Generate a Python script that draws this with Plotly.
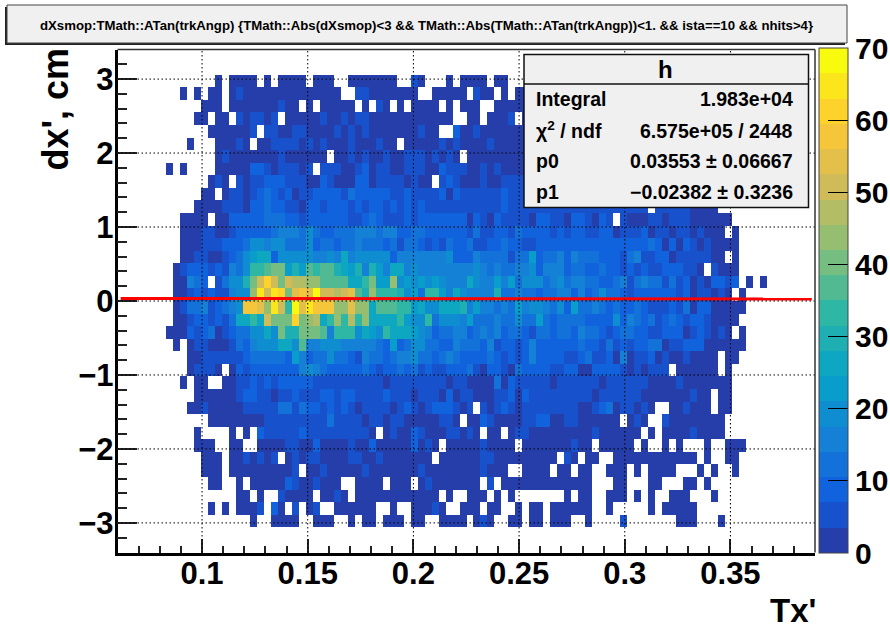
import plotly.graph_objects as go

# ---------- binning and fit results shown on the chart ----------
x_min, x_max, n_x = 0.06, 0.39, 100
y_min, y_max, n_y = -3.4, 3.4, 40
first_col = 7          # rows below start at this x bin
x_ticks = [0.1, 0.15, 0.2, 0.25, 0.3, 0.35]
x_tick_labels = ["0.1", "0.15", "0.2", "0.25", "0.3", "0.35"]
y_ticks = [-3, -2, -1, 0, 1, 2, 3]
z_ticks = [0, 10, 20, 30, 40, 50, 60, 70]
p0, p1 = 0.03553, -0.02382
fit_x = [0.0615, 0.3885]

# counts, one list per y bin, top to bottom (0 = empty)
r02 = [0,0,0, 0,0,0,0,2,0,2,2,2,2, 0,2,0,2,2,2,2,0,2,2, 2,0,0,2,2,2,2,2,2,2, 0,0,5,2,0,0,0,2,0,2, 2,2,2,0,2,2,0,0,0,0]
r03 = [0,0,2, 0,2,0,2,2,0,2,5,2,2, 2,2,2,2,2,2,2,2,2,2, 2,2,0,0,5,5,2,2,2,2, 2,2,2,0,0,2,2,2,2,2, 0,5,2,2,0,2,0,2,2,0]
r04 = [0,0,0, 0,0,2,2,2,0,2,2,2,2, 2,2,2,5,2,2,0,2,0,2, 2,2,2,2,0,2,0,5,2,0, 2,0,2,2,2,2,0,2,0,2, 2,2,0,0,2,2,2,2,2,0]
r05 = [0,0,0, 0,2,2,0,2,2,0,5,2,5, 5,2,5,0,2,2,2,2,2,5, 2,2,5,2,5,5,2,2,2,2, 2,2,2,2,2,2,2,2,0,0, 2,2,0,2,2,2,5,0,2,0]
r06 = [0,0,0, 0,0,0,2,2,2,2,2,2,5, 0,5,5,2,2,5,5,2,2,2, 2,5,2,5,2,5,2,2,2,2, 2,2,2,5,2,2,0,0,9,2, 2,5,2,2,2,2,2,2,2,0]
r07 = [0,0,0, 2,0,0,0,2,2,2,5,2,0, 2,2,5,5,5,5,2,5,2,5, 2,2,2,5,2,2,2,5,2,2, 0,2,2,2,2,2,5,2,5,2, 2,2,2,5,2,2,2,2,2,0]
r08 = [0,0,0, 0,0,0,0,2,5,2,2,2,2, 2,2,2,5,2,2,2,2,2,2, 0,2,2,5,2,5,2,2,5,2, 2,5,5,5,2,5,2,5,2,0, 2,2,2,2,2,2,2,2,2,0]
r09 = [2,0,2, 0,0,0,0,2,2,2,2,2,9, 9,5,2,5,5,5,2,5,0,5, 5,5,2,2,5,9,2,5,5,2, 2,5,5,5,2,2,9,5,5,5, 2,2,5,2,5,2,2,2,2,0]
r10 = [0,0,0, 0,0,0,2,5,2,0,5,2,5, 5,9,9,9,5,5,5,2,2,9, 5,2,2,2,9,9,2,5,5,5, 5,2,5,2,2,0,5,9,5,2, 2,2,5,2,2,5,5,5,5,0]
r11 = [0,0,0, 0,0,2,2,0,2,5,5,2,5, 9,12,9,5,9,2,5,5,9,9, 9,9,5,12,9,9,9,9,9,5, 5,9,5,5,5,5,9,2,9,5, 5,5,5,5,5,9,5,5,5,0]
r12 = [0,0,0, 0,2,2,2,2,5,5,5,2,9, 9,12,9,9,5,5,2,9,9,5, 9,9,9,5,9,5,9,9,5,9, 5,9,5,9,5,5,5,5,5,5, 5,5,5,5,5,9,5,5,5,5, 5,5,5,5,5,5,5,5,5,5, 5,5,5,5,5,5,0,5,5,5, 5,5,2,2,2,2,0,0,0,0]
r13 = [0,0,2, 2,2,2,0,2,2,9,9,9,9, 9,12,12,12,9,9,5,9,9,9, 9,9,9,5,5,9,12,9,5,5, 5,9,5,9,9,9,9,9,9,9, 2,9,5,2,9,5,5,5,5,2, 9,9,5,5,2,9,9,5,2,9, 5,0,5,2,2,2,5,5,2,5, 5,5,2,2,2,2,2,2,0,0]
r14 = [0,0,2, 2,2,5,5,2,2,5,9,9,9, 9,9,12,16,16,16,12,19,12,9, 9,12,12,12,16,16,16,12,16,16, 9,9,12,12,9,9,9,9,9,9, 5,12,5,5,9,9,5,12,9,9, 9,9,5,9,5,9,9,5,5,9, 9,2,5,5,5,9,2,5,5,2, 5,5,2,5,2,2,2,0,2,0]
r15 = [0,0,2, 2,2,5,5,5,9,9,9,12,19, 19,16,19,19,12,12,12,19,9,12, 12,9,12,12,16,12,12,12,9,12, 5,12,12,9,5,9,5,12,9,9, 12,5,5,9,9,12,9,9,5,5, 9,9,9,9,9,9,9,9,9,9, 9,9,9,9,9,9,12,9,2,9, 2,9,5,2,5,2,2,2,2,0]
r16 = [0,0,2, 2,5,5,2,2,5,9,12,19,23, 26,26,9,19,19,19,19,19,16,16, 19,16,26,16,19,19,19,19,19,9, 16,16,16,16,16,16,16,19,9,9, 9,16,12,12,12,12,5,12,12,23, 9,12,12,16,9,16,12,12,12,9, 9,9,5,12,16,5,5,9,9,2, 5,5,5,5,5,2,2,0,2,0]
r17 = [0,2,5, 9,9,9,5,9,5,16,12,19,33, 33,37,40,40,23,30,23,37,33,37, 37,30,26,23,30,16,30,23,16,26, 26,16,19,16,16,16,16,16,16,16, 16,19,16,12,16,12,12,16,16,19, 9,16,16,16,9,12,12,9,9,12, 9,9,5,9,5,9,5,5,9,9, 9,5,5,2,0,5,2,2,2,0]
r18 = [0,2,2, 16,12,9,0,5,12,19,19,30,40, 51,61,51,40,51,47,47,44,44,37, 37,37,37,26,26,33,40,23,23,44, 19,23,19,23,19,23,19,16,16,16, 26,19,16,16,23,16,23,12,19,19, 19,12,16,19,12,16,16,12,12,9, 9,12,16,5,12,16,12,12,5,12, 5,9,2,5,2,9,9,5,9,0, 2,0,2]
r19 = [0,2,2, 5,9,5,9,5,5,16,19,19,44, 65,51,65,61,40,54,58,54,68,51, 51,47,51,54,37,30,44,33,33,33, 30,19,23,12,33,33,23,16,26,19, 16,16,16,16,30,12,12,16,12,12, 9,12,12,16,16,9,16,9,12,19, 12,12,9,5,9,9,9,9,9,9, 5,9,2,5,5,2,5,2,0,2]
r20 = [0,2,5, 12,12,16,5,9,12,16,19,58,58, 54,44,65,51,33,68,54,65,58,58, 58,44,44,54,44,44,26,37,37,37, 33,33,23,26,19,19,26,26,26,30, 16,23,16,16,12,16,12,23,16,19, 19,16,12,19,9,23,12,12,16,12, 9,12,9,9,12,9,5,5,5,9, 5,12,2,9,9,2,2,2,2,2]
r21 = [0,2,2, 5,9,9,5,9,5,12,26,26,33, 26,51,40,40,40,61,40,44,47,26, 33,44,33,47,33,44,26,26,26,26, 33,23,19,19,33,12,19,19,19,16, 23,12,12,12,16,12,12,19,12,12, 23,12,9,12,12,12,12,9,9,9, 9,19,9,16,12,9,12,5,9,12, 9,5,9,9,5,2,2,2,2,0]
r22 = [2,2,2, 9,5,9,12,2,5,9,12,12,19, 19,26,19,40,30,30,40,40,40,37, 16,33,33,33,19,26,23,19,33,26, 26,26,23,19,16,9,12,12,16,16, 9,12,16,12,16,9,12,12,9,5, 12,12,9,12,12,9,16,12,12,9, 5,9,12,12,9,9,5,5,9,9, 9,2,5,9,5,2,5,2,0,2]
r23 = [0,2,0, 2,5,5,2,2,2,5,12,9,16, 19,19,19,26,26,19,37,16,16,19, 19,19,16,16,16,16,16,12,9,23, 9,12,19,19,12,12,9,9,16,12, 12,12,9,16,5,9,9,5,9,16, 9,9,9,9,9,9,12,9,9,5, 12,5,9,5,9,9,12,12,2,5, 5,9,9,9,2,2,2,2,2,2]
r24 = [0,0,0, 2,2,5,5,5,5,5,5,9,12, 12,12,12,12,9,23,16,9,12,12, 19,12,12,9,5,16,12,12,9,12, 16,16,19,12,12,9,12,16,12,9, 9,9,9,12,9,5,9,5,9,16, 9,9,9,9,5,5,9,12,5,5, 9,2,16,2,5,5,9,2,5,2, 2,5,2,2,2,2,0,2,2,0]
r25 = [0,0,0, 2,5,5,5,2,0,2,9,5,9, 9,9,9,9,9,9,16,19,16,12, 9,9,9,9,9,12,9,5,9,9, 12,9,12,5,9,5,5,9,9,9, 12,5,2,9,9,5,2,12,9,9, 9,9,5,5,9,9,2,2,9,9, 9,9,5,2,5,2,5,5,5,0, 2,2,2,2,2,2,0,2,0,0]
r26 = [0,0,2, 0,2,2,0,0,2,2,5,5,9, 5,9,5,9,9,9,9,9,5,5, 5,5,5,5,5,5,5,5,2,5, 5,5,5,5,5,5,5,2,5,5, 2,2,2,2,12,2,9,5,5,5, 5,5,2,5,5,5,5,5,5,2, 5,5,5,5,5,5,2,2,2,2, 5,2,2,2,2,2,2,2,0,0]
r27 = [0,0,0, 0,2,2,2,2,2,2,5,9,9, 5,5,2,5,5,9,5,5,5,9, 9,5,9,9,5,5,5,5,9,5, 5,5,2,5,5,5,2,9,2,5, 5,2,2,2,5,5,9,2,9,5, 5,5,5,5,5,5,5,5,2,5, 5,5,5,5,5,2,2,2,2,2, 2,2,5,2,2,0,2,2,0,0]
r28 = [0,0,0, 2,2,5,2,2,2,2,2,5,5, 5,5,5,12,12,5,12,9,9,5, 9,5,9,5,2,5,5,5,5,2, 5,9,5,2,5,9,9,9,5,2, 5,0,5,2,5,9,5,2,5,5, 5,5,5,5,5,5,2,2,5,9, 12,2,5,5,2,5,2,0,0,2, 2,5,2,2,2,0,2,2,0,0]
r29 = [0,0,0, 0,0,0,2,2,2,2,2,2,2, 2,5,5,5,5,5,5,5,5,5, 12,5,5,5,5,2,5,5,2,5, 5,2,2,2,2,2,5,5,2,0, 2,2,9,5,2,2,2,2,5,5, 9,9,2,2,5,5,2,2,2,2, 2,2,0,2,5,2,0,0,5,2, 2,2,2,2,2,2,2,0,0,0]
r30 = [0,0,0, 0,2,0,0,0,0,2,0,2,0, 9,5,5,5,5,5,9,5,5,5, 5,5,5,5,5,5,2,0,2,5, 2,2,9,5,2,2,2,5,5,2, 5,2,0,2,2,0,2,5,5,2, 2,2,2,2,2,2,2,2,5,2, 2,2,2,2,2,0,2,0,2,2, 2,2,5,2,2,2,2,0,0,0]
r31 = [0,0,0, 0,2,2,2,0,0,2,2,0,0, 2,2,2,2,5,5,2,2,9,2, 2,2,2,5,2,2,9,2,2,2, 2,2,9,2,5,2,0,2,2,2, 2,2,5,2,2,2,2,0,2,2, 2,2,2,2,2,5,2,2,0,2, 2,2,2,2,0,2,0,0,2,0, 2,0,0,0,2,0,0,2,2,2]
r32 = [0,0,0, 0,0,2,2,2,0,2,2,5,2, 5,2,5,0,2,5,2,5,5,2, 2,2,2,5,5,2,2,5,2,2, 2,2,2,2,2,0,2,2,2,2, 2,2,5,5,2,2,2,2,2,2, 2,2,2,0,5,2,0,2,2,0, 0,2,2,2,2,2,2,2,2,2, 2,2,2,0,2,0,0,2,2,0]
r33 = [0,0,0, 0,0,2,2,2,0,2,2,2,2, 2,2,2,2,2,5,0,2,2,5, 2,2,2,2,2,5,2,2,2,2, 2,2,2,5,2,2,2,2,2,2, 2,2,5,2,2,2,0,0,2,2, 2,2,0,2,2,0,2,2,0,0, 2,2,2,0,2,0,2,2,2,2, 0,0,0,2,0,2,0,0,2,0]
r34 = [0,0,0, 0,0,0,2,2,0,0,2,0,2, 2,2,2,2,9,5,2,2,5,2, 2,2,0,0,2,2,2,2,0,2, 2,2,0,2,5,2,2,2,2,2, 2,2,0,5,0,2,2,2,2,2, 2,2,2,2,2,2,2,2,0,0, 0,2,2,0,0,0,2,2,0,0, 0,2,2,0,2,0,0,0,0,0]
r35 = [0,0,0, 0,0,0,0,0,0,0,2,2,0, 2,0,0,5,2,2,2,2,0,2, 2,5,2,0,2,2,2,2,2,2, 2,2,2,2,2,2,0,2,0,0, 2,2,2,0,2,0,2,0,0,0, 0,0,0,0,2,0,2,2,0,0, 2,2,2,0,2,0,2,0,0,2, 2,2,0,0,0,2,0,0,0,0]
r36 = [0,0,0, 0,0,0,2,0,2,0,2,2,2, 5,0,9,2,0,5,0,2,5,0, 0,2,2,2,2,2,2,0,0,2, 0,0,2,2,2,5,2,0,0,2, 2,2,0,2,2,0,0,2,0,2, 2,0,2,2,2,2,2,2,0,0, 2,0,0,0,0,0,2,0,2,2, 2,2,2,0,0,0,0,0,0,0]
r37 = [0,0,0, 0,0,0,0,0,0,0,0,0,2, 0,0,2,2,2,2,0,0,2,2, 2,0,0,2,0,2,2,0,2,2, 2,0,2,2,0,0,2,2,2,2, 0,2,5,2,0,0,2,2,0,2, 2,0,2,2,2,0,0,2,0,0, 0,0,5,0,0,0,0,0,0,0, 2,2,2,0,0,0,2,0,0,0]
rows_top_down = [[], [], r02, r03, r04, r05, r06, r07, r08, r09, r10, r11, r12, r13, r14, r15, r16,
                 r17, r18, r19, r20, r21, r22, r23, r24, r25, r26, r27, r28, r29, r30, r31, r32,
                 r33, r34, r35, r36, r37, [], []]

# ---------- palette: ROOT kBird stops, 20 contour bands ----------
bird_r = [0.2082, 0.0592, 0.0780, 0.0232, 0.1802, 0.5301, 0.8186, 0.9956, 0.9764]
bird_g = [0.1664, 0.3599, 0.5041, 0.6419, 0.7178, 0.7492, 0.7328, 0.7862, 0.9832]
bird_b = [0.5293, 0.8684, 0.8385, 0.7914, 0.6425, 0.4662, 0.3499, 0.1968, 0.0539]

def bird(t):
    s = min(t * 8, 7.9999)
    k = int(s)
    f = s - k
    c = [a[k] + (a[k + 1] - a[k]) * f for a in (bird_r, bird_g, bird_b)]
    return "rgb(%d,%d,%d)" % tuple(round(v * 255) for v in c)

n_bands = 20
scale = []
for k in range(n_bands):
    col = bird((k + 0.99) / n_bands)
    scale += [[k / n_bands, col], [(k + 1) / n_bands, col]]

# ---------- grid of bins ----------
dx = (x_max - x_min) / n_x
dy = (y_max - y_min) / n_y
x_centres = [x_min + (i + 0.5) * dx for i in range(n_x)]
y_centres = [y_max - (j + 0.5) * dy for j in range(n_y)]
z = []
for row in rows_top_down:
    full = [0] * first_col + row
    full += [0] * (n_x - len(full))
    z.append([v if v > 0 else None for v in full[:n_x]])

# ---------- page geometry (pixels) ----------
W, H = 890, 627
L, R, T, B = 117.5, 815, 49.5, 552.5

def px(v):
    return v / W

def py(v):
    return 1 - v / H

FONT = "Liberation Sans"
DOTS = "1.5px,2.5px"

fig = go.Figure()
fig.add_trace(go.Heatmap(
    x=x_centres, y=y_centres, z=z, zmin=0, zmax=70, colorscale=scale, zsmooth=False,
    hoverongaps=False,
    colorbar=dict(
        x=819 / W, xanchor="left", xpad=0, ypad=0, thickness=29, thicknessmode="pixels",
        y=1 - 553 / H, yanchor="bottom", len=505 / H, lenmode="fraction",
        tickmode="array", tickvals=z_ticks, ticks="inside", ticklen=20, tickwidth=1,
        tickcolor="black", outlinecolor="#444444", outlinewidth=1,
        tickfont=dict(family=FONT, size=30, color="black", weight=700),
    ),
))
fig.add_trace(go.Scatter(
    x=fit_x, y=[p0 + p1 * v for v in fit_x], mode="lines",
    line=dict(color="#ff0000", width=3), hoverinfo="skip", showlegend=False,
))

shapes = []
for v in x_ticks:
    shapes.append(dict(type="line", xref="x", yref="y", x0=v, x1=v, y0=y_min, y1=y_max,
                       line=dict(color="black", width=1, dash=DOTS)))
for v in y_ticks:
    shapes.append(dict(type="line", xref="x", yref="y", x0=x_min, x1=x_max, y0=v, y1=v,
                       line=dict(color="black", width=1, dash=DOTS)))

def rect(x0, y0, x1, y1, fill, line_col=None, lw=0):
    return dict(type="rect", xref="paper", yref="paper", x0=px(x0), x1=px(x1), y0=py(y1), y1=py(y0),
                fillcolor=fill, line=dict(color=line_col or fill, width=lw), layer="above")

def hline(x0, x1, y, col, lw):
    return dict(type="line", xref="paper", yref="paper", x0=px(x0), x1=px(x1), y0=py(y), y1=py(y),
                line=dict(color=col, width=lw))

# frame, thin on top and right
shapes.append(hline(L, R, T, "#333333", 1.5))
shapes.append(dict(type="line", xref="paper", yref="paper", x0=px(R), x1=px(R), y0=py(B), y1=py(T),
                   line=dict(color="#333333", width=1.5)))
# title box with shadow
shapes.append(rect(5, 7, 845, 45, "#222222"))
shapes.append(rect(7, 5, 847, 43, "#f0f0f0", "#444444", 1))
# statistics box
shapes.append(rect(524, 54.5, 808.5, 207.5, "#f0f0f0", "#111111", 1.5))
shapes.append(hline(524, 808.5, 84, "#111111", 1.5))

annotations = []

def label(text, x, y, size, anchor="center", angle=0):
    annotations.append(dict(text=text, xref="paper", yref="paper", x=px(x), y=py(y), showarrow=False,
                            xanchor=anchor, yanchor="middle", textangle=angle, borderpad=0, borderwidth=0,
                            font=dict(family=FONT, size=size, color="black", weight=700)))

label("dXsmop:TMath::ATan(trkAngp) {TMath::Abs(dXsmop)<3 && TMath::Abs(TMath::ATan(trkAngp))<1. && ista==10 && nhits>4}".replace("<", "&lt;").replace(">", "&gt;"),
      426, 25, 13.2)
label("h", 665, 69, 24)
label("Integral", 536, 99, 19.5, "left")
label("1.983e+04", 793, 99, 19.5, "right")
label("χ<sup>2</sup> / ndf", 536, 130, 19.5, "left")
label("6.575e+05 / 2448", 793, 131, 19.5, "right")
label("p0", 536, 161, 19.5, "left")
label("0.03553 ± 0.06667", 793, 161, 19.5, "right")
label("p1", 536, 192, 19.5, "left")
label("−0.02382 ± 0.3236", 793, 192, 19.5, "right")
label("Tx'", 816, 610, 33, "right")
annotations.append(dict(text="dx', cm", xref="paper", yref="paper", x=px(55), y=py(47), showarrow=False,
                        xanchor="center", yanchor="top", textangle=-90, borderpad=0,
                        font=dict(family=FONT, size=36, color="black", weight=700)))

axis_font = dict(family=FONT, size=31, color="black", weight=700)
fig.update_layout(
    width=W, height=H, autosize=False, margin=dict(l=0, r=0, t=0, b=0, autoexpand=False),
    paper_bgcolor="white", plot_bgcolor="white", showlegend=False,
    shapes=shapes, annotations=annotations,
    xaxis=dict(domain=[L / W, R / W], range=[x_min, x_max], tickmode="array", tickvals=x_ticks,
               ticktext=x_tick_labels, ticks="inside", ticklen=14, tickwidth=1.5, tickcolor="#222222",
               showgrid=False, zeroline=False, showline=True, linecolor="black", linewidth=2.5,
               tickfont=axis_font, automargin=False, ticklabelstandoff=-8,
               minor=dict(dtick=0.01, tick0=0.0, ticks="inside", ticklen=7, tickwidth=1.5, tickcolor="#222222", showgrid=False)),
    yaxis=dict(domain=[1 - B / H, 1 - T / H], range=[y_min, y_max], tickmode="array", tickvals=y_ticks,
               ticks="inside", ticklen=20, tickwidth=1.5, tickcolor="#222222",
               showgrid=False, zeroline=False, showline=True, linecolor="black", linewidth=2.5,
               tickfont=axis_font, automargin=False, ticklabelstandoff=-5,
               minor=dict(dtick=0.2, tick0=0.0, ticks="inside", ticklen=10, tickwidth=1.5, tickcolor="#222222", showgrid=False)),
)
fig.write_html("out.html", config={"displayModeBar": False},
               post_script="document.body.style.margin='0';document.documentElement.style.overflow='hidden';")
